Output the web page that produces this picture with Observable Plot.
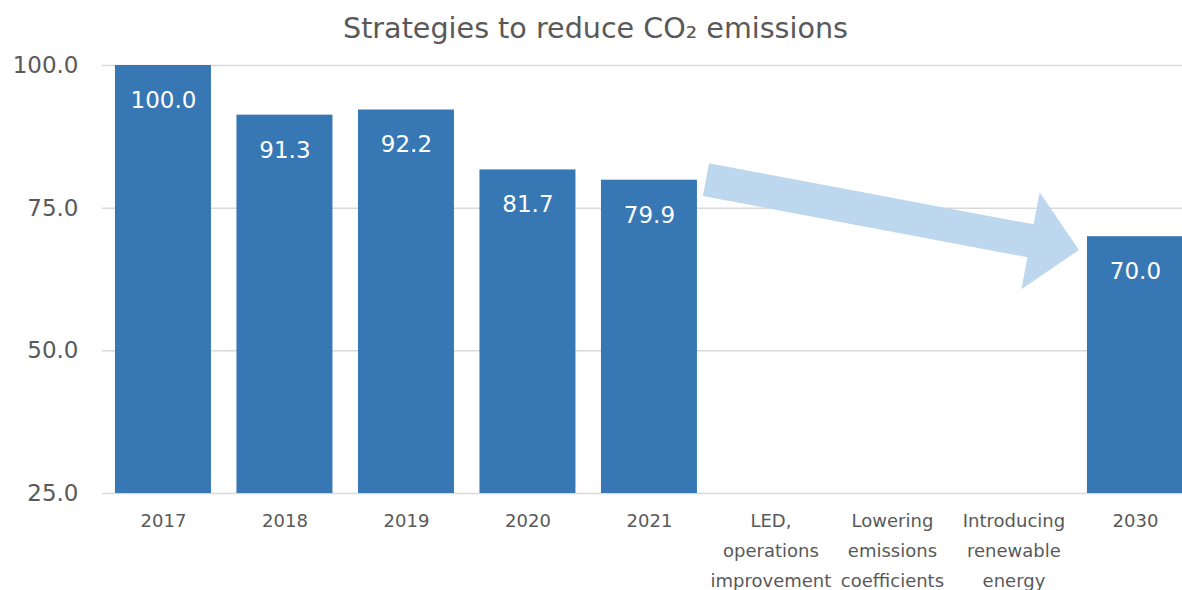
<!DOCTYPE html>
<html><head><meta charset="utf-8">
<script src="https://cdn.jsdelivr.net/npm/d3@7"></script>
<script src="https://cdn.jsdelivr.net/npm/@observablehq/plot@0.6"></script>
<style>
html,body{margin:0;padding:0;background:#fff;overflow:hidden;}
#title{width:1182px;box-sizing:border-box;padding-left:9px;height:50px;line-height:57px;text-align:center;font-family:"DejaVu Sans",sans-serif;font-size:28.6px;color:#595959;}
#chart svg{overflow:visible;}
</style></head><body>
<div id="title">Strategies to reduce CO₂ emissions</div>
<div id="chart"></div>
<script>
// ---- data ----
const categories = ["2017","2018","2019","2020","2021","LED","Lowering","Introducing","2030"];
const tickLabels = ["2017","2018","2019","2020","2021","LED,\noperations\nimprovement","Lowering\nemissions\ncoefficients","Introducing\nrenewable\nenergy","2030"];
const values = [100.0, 91.3, 92.2, 81.7, 79.9, null, null, null, 70.0];
const yTicks = [25, 50, 75, 100];
const yDomain = [25, 100];
const arrowFrom = {category: "2021", value: 79.9};
const arrowTo = {category: "2030", value: 67.6};

// ---- build ----
const data = categories.map((c, i) => ({category: c, value: values[i]}));
const bars = data.filter(d => d.value != null);
const labelOf = new Map(categories.map((c, i) => [c, tickLabels[i]]));

const FONT = "DejaVu Sans";
const TEXT = "#595959";

function arrowMark(index, scales, channels, dimensions, context) {
  const x = scales.x, y = scales.y;
  const bw = typeof x.bandwidth === "function" ? x.bandwidth() : 0;
  const x0 = x(arrowFrom.category) + bw + 9, y0 = y(arrowFrom.value);
  const x1 = x(arrowTo.category) - 8, y1 = y(arrowTo.value);
  const dx = x1 - x0, dy = y1 - y0, L = Math.hypot(dx, dy);
  const ux = dx / L, uy = dy / L, nx = uy, ny = -ux;
  const hw = 16.7, hh = 49.4, hl = 49.3;
  const bx = x1 - ux * hl, by = y1 - uy * hl;
  const pts = [
    [x0 + nx * hw, y0 + ny * hw],
    [bx + nx * hw, by + ny * hw],
    [bx + nx * hh, by + ny * hh],
    [x1, y1],
    [bx - nx * hh, by - ny * hh],
    [bx - nx * hw, by - ny * hw],
    [x0 - nx * hw, y0 - ny * hw]
  ];
  const ns = "http://www.w3.org/2000/svg";
  const g = context.document.createElementNS(ns, "g");
  const p = context.document.createElementNS(ns, "polygon");
  p.setAttribute("points", pts.map(d => d.join(",")).join(" "));
  p.setAttribute("fill", "#bdd7ee");
  g.appendChild(p);
  return g;
}

const chart = Plot.plot({
  width: 1182,
  height: 540,
  marginTop: 15,
  marginBottom: 97,
  marginLeft: 102,
  marginRight: 0,
  style: {fontFamily: FONT, background: "white", color: TEXT},
  x: {type: "band", domain: categories, range: [102.2, 1195.7], paddingInner: 0.21, paddingOuter: 0.105, round: false},
  y: {domain: yDomain},
  marks: [
    Plot.gridY({ticks: yTicks, stroke: "#d9d9d9", strokeOpacity: 1, strokeWidth: 1.5}),
    Plot.barY(bars, {x: "category", y1: yDomain[0], y2: "value", fill: "#3777b3"}),
    Plot.text(bars, {x: "category", y: "value", text: d => d.value.toFixed(1), dy: 35, fill: "white", fontSize: 23}),
    arrowMark,
    Plot.axisY({ticks: yTicks, tickFormat: d => d.toFixed(1), tickSize: 0, tickPadding: 24, fontSize: 23, fill: TEXT, label: null}),
    Plot.axisX({tickFormat: d => labelOf.get(d), tickSize: 0, tickPadding: 12, fontSize: 18, lineHeight: 1.67, fill: TEXT, label: null})
  ]
});
document.getElementById("chart").appendChild(chart);
</script>
</body></html>
